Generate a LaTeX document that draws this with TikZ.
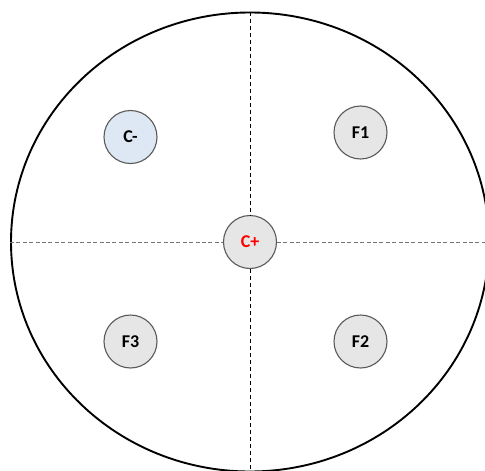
\documentclass[tikz,border=0pt]{standalone}
\usepackage{fontspec}
\setmainfont{Carlito}
\usetikzlibrary{shapes.geometric}
\definecolor{wellgray}{HTML}{E6E6E6}
\definecolor{wellblue}{HTML}{DEE8F4}
\definecolor{rimgray}{HTML}{5A5A5A}
\tikzset{
  dish/.style  ={ellipse, draw=black, line width=1.9pt, minimum width=478pt, minimum height=459pt, inner sep=0pt},
  well/.style  ={circle, draw=rimgray, line width=1.1pt, fill=wellgray, minimum size=53pt, inner sep=0pt,
                 font=\fontsize{18}{20}\selectfont\bfseries},
  ctrl/.style  ={well, fill=wellblue},
  vax/.style   ={draw=black, line width=0.8pt, dash pattern=on 4pt off 3pt},
  hax/.style   ={draw=black!55, line width=1pt, dash pattern=on 4pt off 2.4pt},
}
\begin{document}
\begin{tikzpicture}[x=1pt,y=-1pt]
\useasboundingbox (0,0) rectangle (485,471);
% plate outline
\node[dish] (plate) at (250,242) {};
% central positive control
\node[well] (cpos) at (250,242) {\textcolor{red}{C+}};
% negative control + samples
\node[ctrl] (cneg) at (130.5,137) {C-};
\node[well] (f1) at (360.5,132.5) {F1};
\node[well] (f2) at (360.5,341.5) {F2};
\node[well] (f3) at (130.5,341.5) {F3};
% quadrant axes
\coordinate (redge) at (490,242);
\draw[vax] (plate.north) -- (cpos.north);
\draw[vax] (cpos.south) -- (plate.south);
\draw[hax] (plate.west) -- (cpos.west);
\draw[hax] (cpos.east) -- (redge);
\end{tikzpicture}
\end{document}
